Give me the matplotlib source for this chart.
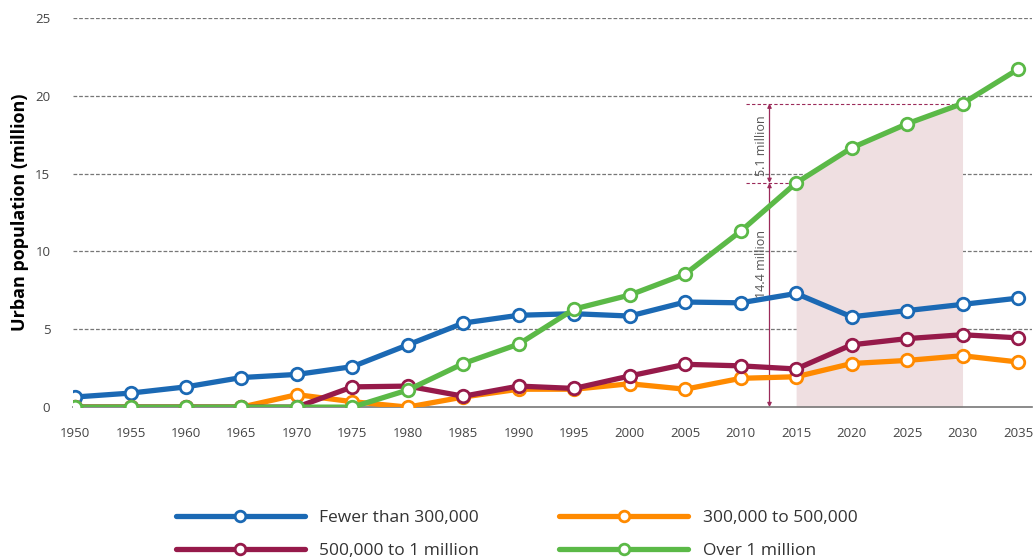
import matplotlib
matplotlib.use("Agg")
import matplotlib.pyplot as plt
import numpy as np

years = [1950, 1955, 1960, 1965, 1970, 1975, 1980, 1985, 1990, 1995,
         2000, 2005, 2010, 2015, 2020, 2025, 2030, 2035]
fewer_300k = [0.65, 0.9, 1.3, 1.9, 2.1, 2.6, 4.0, 5.4, 5.9, 6.0,
              5.85, 6.75, 6.7, 7.3, 5.8, 6.2, 6.6, 7.0]
k300_500k = [0, 0, 0, 0, 0.8, 0.35, 0, 0.65, 1.15, 1.15,
             1.5, 1.15, 1.85, 1.95, 2.8, 3.0, 3.3, 2.9]
k500_1m = [0, 0, 0, 0, 0, 1.3, 1.35, 0.7, 1.35, 1.2,
           2.0, 2.75, 2.65, 2.45, 4.0, 4.4, 4.65, 4.45]
over_1m = [0, 0, 0, 0, 0, 0, 1.1, 2.8, 4.05, 6.3,
           7.2, 8.55, 11.3, 14.4, 16.65, 18.2, 19.5, 21.7]
labels = ["Fewer than 300,000", "300,000 to 500,000", "500,000 to 1 million", "Over 1 million"]
colors = ["#1b69b4", "#ff8a00", "#961a4a", "#5bb947"]

plt.rcParams['font.family'] = ['Open Sans', 'DejaVu Sans']

fig = plt.figure(figsize=(10.36, 5.6), dpi=100)
ax = fig.add_axes([0.07, 0.273, 0.926, 0.695])

# shaded region 2015-2030 under green
yrs = np.array(years)
g = np.array(over_1m)
mask = (yrs >= 2015) & (yrs <= 2030)
ax.fill_between(yrs[mask], 0, g[mask], color="#efdfe1", lw=0, zorder=1)

series = [fewer_300k, k300_500k, k500_1m, over_1m]
handles = []
for s, c, lab in zip(series, colors, labels):
    h, = ax.plot(years, s, color=c, lw=3.8, marker='o', ms=9, mfc='white',
                 mec=c, mew=2, label=lab, zorder=3, solid_capstyle='round')
    handles.append(h)

# annotation
ann_color = "#9b2a5a"
xa = 2012.6
v2015 = over_1m[years.index(2015)]
v2030 = over_1m[years.index(2030)]
ax.plot([2010.5, 2015], [v2015, v2015], ls=(0, (3, 2)), color=ann_color, lw=0.8, zorder=2)
ax.plot([2010.5, 2030], [v2030, v2030], ls=(0, (3, 2)), color=ann_color, lw=0.8, zorder=2)
ax.annotate("", xy=(xa, 0), xytext=(xa, v2015),
            arrowprops=dict(arrowstyle="<|-|>", color=ann_color, lw=0.9,
                            mutation_scale=6, shrinkA=0, shrinkB=0), zorder=2)
ax.annotate("", xy=(xa, v2015), xytext=(xa, v2030),
            arrowprops=dict(arrowstyle="<|-|>", color=ann_color, lw=0.9,
                            mutation_scale=6, shrinkA=0, shrinkB=0), zorder=2)
ax.text(xa - 0.75, 9.2, "%.1f million" % v2015, rotation=90, ha='center', va='center',
        fontsize=9, color="#555555", zorder=4)
ax.text(xa - 0.75, 16.8, "%.1f million" % (v2030 - v2015), rotation=90,
        ha='center', va='center', fontsize=9, color="#555555", zorder=4)

ax.set_xlim(1949.77, 2036.25)
ax.set_ylim(0, 25)
ax.set_xticks(years)
ax.set_yticks([0, 5, 10, 15, 20, 25])
ax.tick_params(axis='both', length=0, labelsize=9.5, colors="#444444")
ax.tick_params(axis='x', pad=14)
ax.tick_params(axis='y', pad=16)
for sp in ['top', 'right', 'left']:
    ax.spines[sp].set_visible(False)
ax.spines['bottom'].set_color("#777777")
ax.spines['bottom'].set_linewidth(1.2)
for v in [5, 10, 15, 20, 25]:
    ax.axhline(v, color="#777777", lw=0.9, ls=(0, (3, 1.5)), zorder=0)
ax.set_ylabel("Urban population (million)", fontsize=13, fontweight='bold', labelpad=4)

# legend: row-major order (matplotlib fills columns first)
order = [0, 2, 1, 3]
leg = fig.legend(handles=[handles[i] for i in order], loc='lower left',
                 bbox_to_anchor=(0.155, -0.027),
                 ncol=2, frameon=False, handlelength=7.4, handletextpad=0.85,
                 columnspacing=4.6, fontsize=12.5, labelspacing=1.0, markerscale=0.85)
for t in leg.get_texts():
    t.set_color("#333333")

fig.savefig("out.png", dpi=100)
